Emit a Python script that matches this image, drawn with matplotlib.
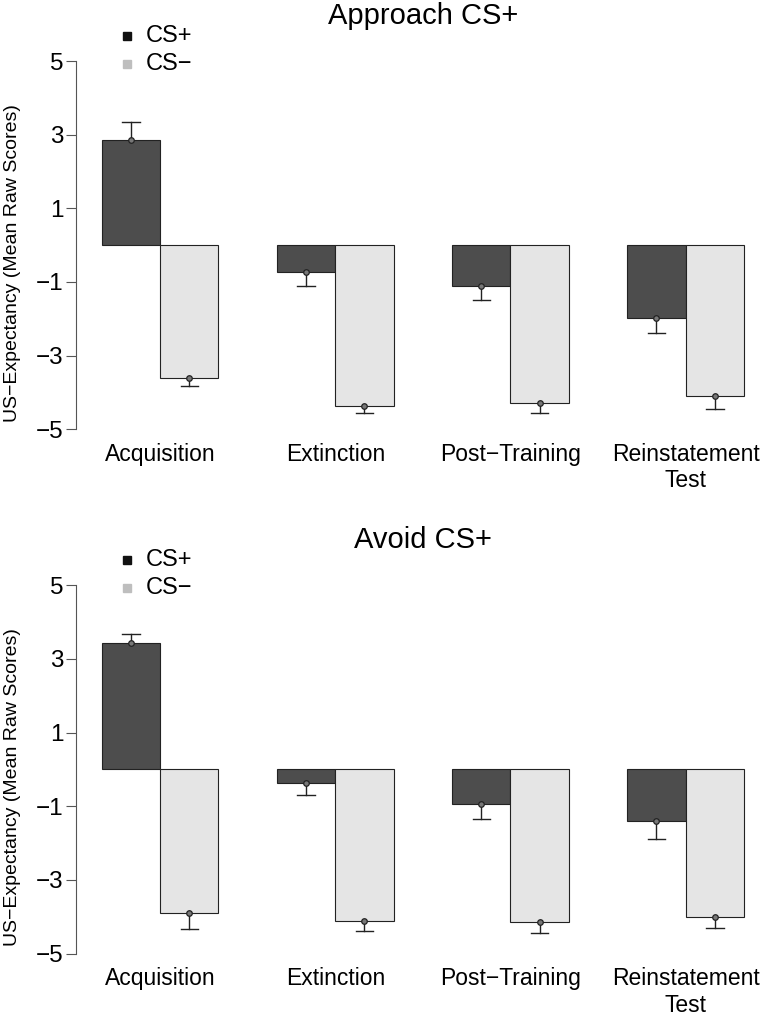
import matplotlib.pyplot as plt
import numpy as np

plt.rcParams['font.family'] = ['Liberation Sans', 'DejaVu Sans']

phases = ["Acquisition", "Extinction", "Post\u2212Training", "Reinstatement\nTest"]
series = ["CS+", "CS\u2212"]

# Approach CS+ group
approach_plus = [2.86, -0.73, -1.11, -1.97]
approach_plus_se = [0.49, 0.37, 0.39, 0.42]
approach_minus = [-3.62, -4.36, -4.29, -4.09]
approach_minus_se = [0.20, 0.21, 0.26, 0.35]

# Avoid CS+ group
avoid_plus = [3.42, -0.36, -0.94, -1.41]
avoid_plus_se = [0.26, 0.33, 0.41, 0.48]
avoid_minus = [-3.89, -4.12, -4.14, -4.00]
avoid_minus_se = [0.44, 0.27, 0.29, 0.30]

yticks = [5, 3, 1, -1, -3, -5]

BAR_COLS = ["#4d4d4d", "#e5e5e5"]
LEG_COLS = ["#111111", "#bebebe"]


def draw_errs(ax, x, means, ses):
    for xi, m, s in zip(x, means, ses):
        end = m + s if m > 0 else m - s
        ax.plot([xi, xi], [m, end], color="#222222", lw=1.0, zorder=3)
        ax.plot([xi - 0.15, xi + 0.15], [end, end], color="#222222", lw=1.0, zorder=3)
        ax.plot([xi], [m], marker="o", ms=4, mfc="#777777", mec="#222222", mew=0.9, zorder=4)


def panel(ax, title, plus, plus_se, minus, minus_se):
    g = np.arange(len(phases)) * 3
    ax.bar(g - 0.5, plus, width=1, color=BAR_COLS[0], edgecolor="#222222", lw=0.8)
    ax.bar(g + 0.5, minus, width=1, color=BAR_COLS[1], edgecolor="#222222", lw=0.8)
    draw_errs(ax, g - 0.5, plus, plus_se)
    draw_errs(ax, g + 0.5, minus, minus_se)

    ax.set_xlim(-1.44, 10.44)
    ax.set_ylim(-5.4, 5.4)
    for s in ["top", "right", "bottom"]:
        ax.spines[s].set_visible(False)
    ax.spines["left"].set_bounds(-5, 5)
    ax.spines["left"].set_color("#555555")
    ax.set_yticks(yticks)
    ax.set_yticklabels([str(t).replace("-", "\u2212") for t in yticks])
    ax.tick_params(axis="y", length=7, width=0.8, color="#555555", labelsize=17.5, pad=2)
    ax.set_xticks(g)
    ax.set_xticklabels(phases)
    ax.tick_params(axis="x", length=0, labelsize=16.5, pad=-1)
    ax.set_ylabel("US\u2212Expectancy (Mean Raw Scores)", fontsize=14)
    ax.yaxis.set_label_coords(-0.079, 0.456)
    ax.set_title(title, fontsize=21, pad=16)

    # legend drawn by hand, R style
    for i, (lab, col) in enumerate(zip(series, LEG_COLS)):
        yy = 1.026 - i * 0.07
        ax.plot([0.073], [yy], marker="s", ms=6, color=col, transform=ax.transAxes, clip_on=False)
        ax.text(0.101, yy, lab, fontsize=17, va="center", transform=ax.transAxes)


fig = plt.figure(figsize=(7.62, 10.15), dpi=100)
ax1 = fig.add_axes([0.0997, 0.5626, 0.9105, 0.3918])
ax2 = fig.add_axes([0.0997, 0.0459, 0.9105, 0.3922])
panel(ax1, "Approach CS+", approach_plus, approach_plus_se, approach_minus, approach_minus_se)
panel(ax2, "Avoid CS+", avoid_plus, avoid_plus_se, avoid_minus, avoid_minus_se)

fig.savefig("out.png", dpi=100)
